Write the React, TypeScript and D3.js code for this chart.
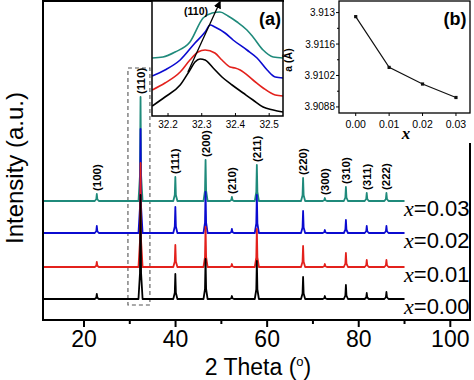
import React from 'react';
import * as d3 from 'd3';

const W = 474;
const H = 380;

// ---------- main XRD data ----------
const peakPos = [22.8, 32.35, 39.95, 46.55, 52.3, 57.75, 67.85, 72.6, 77.2, 81.75, 86.05];
const peakLabels = ['(100)', '(110)', '(111)', '(200)', '(210)', '(211)', '(220)', '(300)', '(310)', '(311)', '(222)'];
const seriesNames = ['0.00', '0.01', '0.02', '0.03'];
const seriesColors = ['#000000', '#e3211c', '#0b0bd0', '#1f8a7b'];
const seriesOffsets = [0, 32, 66, 98];
const heights000 = [5, 104, 25, 40, 3, 38, 22, 3, 14, 6, 7];
const heights001 = [5, 104, 22, 40, 3, 38, 21, 3, 14, 7, 7];
const heights002 = [7, 104, 26, 41, 4, 38, 22, 3, 13, 7, 7];
const heights003 = [7, 104, 24, 41, 4, 36, 23, 3, 14, 8, 8];
const seriesHeights = [heights000, heights001, heights002, heights003];
const scanStart = 11.2;
const scanEnd = 90;
const mainMajorTicks = [20, 40, 60, 80, 100];
const mainMinorTicks = [30, 50, 70, 90];

// ---------- inset (a) data ----------
const insetTheta000 = [32.153, 32.191, 32.236, 32.265, 32.28, 32.295, 32.31, 32.334, 32.36, 32.39, 32.423, 32.452, 32.482, 32.512, 32.541];
const insetInt000 = [10, 19, 31, 46, 54, 57, 56, 48, 39, 31, 23, 16, 9, 6, 4];
const insetTheta001 = [32.153, 32.191, 32.236, 32.265, 32.289, 32.31, 32.339, 32.36, 32.384, 32.399, 32.414, 32.452, 32.482, 32.518, 32.541];
const insetInt001 = [26, 33, 44, 56, 64, 66, 63, 56, 49, 48, 46, 36, 28, 21, 20];
const insetTheta002 = [32.153, 32.191, 32.236, 32.28, 32.31, 32.325, 32.339, 32.369, 32.393, 32.434, 32.464, 32.494, 32.518, 32.541];
const insetInt002 = [40, 46, 56, 73, 84, 91, 89, 83, 76, 66, 58, 46, 39, 38];
const insetTheta003 = [32.153, 32.185, 32.221, 32.265, 32.304, 32.331, 32.354, 32.378, 32.405, 32.434, 32.452, 32.482, 32.512, 32.541];
const insetInt003 = [58, 59, 64, 74, 98, 103, 104, 100, 94, 86, 79, 66, 59, 58];
const insetThetas = [insetTheta000, insetTheta001, insetTheta002, insetTheta003];
const insetInts = [insetInt000, insetInt001, insetInt002, insetInt003];
const insetTicks = [32.2, 32.3, 32.4, 32.5];
const arrowFrom = [32.259, 44];
const arrowTo = [32.354, 114];

// ---------- inset (b) data ----------
const latticeX = [0, 0.01, 0.02, 0.03];
const latticeA = [3.91282, 3.91056, 3.90982, 3.90922];
const latticeTicks = [3.9088, 3.9102, 3.9116, 3.913];
const latticeXTicks = [0, 0.01, 0.02, 0.03];

const SANS = '"Liberation Sans", Arial, sans-serif';
const SERIF = '"Liberation Serif", "Times New Roman", serif';

export default function App() {
  // main plot frame
  const L = 43, R = 470, T = 1, B = 320;
  const x = d3.scaleLinear().domain([11.05, 104.3]).range([L, R]);
  const y = d3.scaleLinear().domain([-21, 299]).range([B, 0]);

  const buildSeries = (hs: number[]) => {
    const pts: [number, number][] = [[scanStart, 0]];
    peakPos.forEach((p, i) => {
      const h = hs[i];
      pts.push([p - 0.45, 0], [p - 0.12, h * 0.25], [p, h], [p + 0.12, h * 0.25], [p + 0.45, 0]);
    });
    pts.push([scanEnd, 0]);
    return pts;
  };

  const mainLine = (off: number) =>
    d3.line<[number, number]>().x(d => x(d[0])).y(d => y(d[1] + off));

  // inset a
  const aL = 152, aR = 283, aT = 1, aB = 116;
  const xa = d3.scaleLinear().domain([32.1525, 32.541]).range([aL, aR]);
  const ya = d3.scaleLinear().domain([0, 115]).range([aB, aT]);
  const insetLine = d3.line<number>().curve(d3.curveMonotoneX);

  // inset b
  const bL = 339, bR = 470, bT = 1, bB = 113;
  const xb = d3.scaleLinear().domain([-0.005, 0.0342]).range([bL, bR]);
  const yb = d3.scaleLinear().domain([3.90853, 3.91356]).range([bB, 0]);
  const bLine = d3.line<number>().x((_, i) => xb(latticeX[i])).y(d => yb(d));
  const bMinor = latticeTicks.slice(0, -1).map((t, i) => (t + latticeTicks[i + 1]) / 2);

  const tealTop = seriesOffsets[3];

  return (
    <svg width={W} height={H} style={{ position: 'absolute', left: 0, top: 0, background: '#fff' }}>
      <defs>
        <clipPath id="clipA">
          <rect x={aL} y={aT} width={aR - aL} height={aB - aT} />
        </clipPath>
        <marker id="arrowHead" viewBox="0 0 10 10" refX="8" refY="5" markerWidth="6" markerHeight="6" orient="auto">
          <path d="M0,0 L10,5 L0,10 z" fill="#000" />
        </marker>
      </defs>
      <rect x={0} y={0} width={W} height={H} fill="#fff" />

      {/* dashed box around (110) */}
      <rect x={x(29.6)} y={68} width={x(34.4) - x(29.6)} height={305 - 68}
        fill="none" stroke="#555" strokeWidth={1.1} strokeDasharray="4,3" />

      {/* XRD traces (top drawn first) */}
      {[3, 2, 1, 0].map(si => (
        <path key={si} d={mainLine(seriesOffsets[si])(buildSeries(seriesHeights[si])) || ''}
          fill="none" stroke={seriesColors[si]} strokeWidth={1.8} strokeLinejoin="round" />
      ))}

      {/* peak labels */}
      {peakPos.map((p, i) => {
        const py = y(tealTop + seriesHeights[3][i]) - 3;
        return (
          <text key={i} transform={`translate(${x(p)},${py}) rotate(-90)`} dy="0.35em"
            fontFamily={SANS} fontWeight="bold" fontSize={11.5} fill="#000">{peakLabels[i]}</text>
        );
      })}

      {/* series labels */}
      {seriesNames.map((n, si) => (
        <text key={n} x={404} y={y(seriesOffsets[si]) + 15} fontSize={22} fill="#000">
          <tspan fontFamily={SERIF} fontStyle="italic">x</tspan>
          <tspan fontFamily={SANS}>={n}</tspan>
        </text>
      ))}

      {/* main frame */}
      <rect x={L} y={T} width={R - L} height={B - T} fill="none" stroke="#000" strokeWidth={2} />

      {/* main x axis ticks */}
      {mainMajorTicks.map(t => (
        <g key={t}>
          <line x1={x(t)} x2={x(t)} y1={B} y2={B + 7} stroke="#000" strokeWidth={2} />
          <text x={x(t)} y={347} textAnchor="middle" fontFamily={SANS} fontSize={23}>{t}</text>
        </g>
      ))}
      {mainMinorTicks.map(t => (
        <line key={t} x1={x(t)} x2={x(t)} y1={B} y2={B + 4} stroke="#000" strokeWidth={2} />
      ))}
      <text x={258} y={375} textAnchor="middle" fontFamily={SANS} fontSize={23}>
        2 Theta (<tspan dy={-9} fontSize={13}>o</tspan><tspan dy={9}>)</tspan>
      </text>
      <text transform={`translate(23,168) rotate(-90)`} textAnchor="middle" fontFamily={SANS} fontSize={24}>
        Intensity (a.u.)
      </text>

      {/* ---------- inset (a) ---------- */}
      <rect x={aL} y={aT} width={aR - aL} height={aB - aT} fill="#fff" />
      <g clipPath="url(#clipA)">
        {[0, 1, 2, 3].map(si => (
          <path key={si}
            d={insetLine.x((_, i) => xa(insetThetas[si][i])).y(d => ya(d))(insetInts[si]) || ''}
            fill="none" stroke={seriesColors[si]} strokeWidth={1.6} />
        ))}
      </g>
      <line x1={xa(arrowFrom[0])} y1={ya(arrowFrom[1])} x2={xa(arrowTo[0])} y2={ya(arrowTo[1])}
        stroke="#000" strokeWidth={1.3} markerEnd="url(#arrowHead)" />
      <text x={196} y={15} textAnchor="middle" fontFamily={SANS} fontWeight="bold" fontSize={10.5}>(110)</text>
      <text x={270} y={25} textAnchor="middle" fontFamily={SANS} fontWeight="bold" fontSize={18}>(a)</text>
      <rect x={aL} y={aT} width={aR - aL} height={aB - aT} fill="none" stroke="#000" strokeWidth={1.5} />
      {insetTicks.map(t => (
        <g key={t}>
          <line x1={xa(t)} x2={xa(t)} y1={aB} y2={aB - 3} stroke="#000" strokeWidth={1} />
          <text x={xa(t)} y={128} textAnchor="middle" fontFamily={SANS} fontSize={10}>{t.toFixed(1)}</text>
        </g>
      ))}

      {/* ---------- inset (b) ---------- */}
      <rect x={aR + 1} y={0} width={W - aR - 1} height={bB + 30} fill="#fff" />
      <rect x={bL} y={bT} width={bR - bL} height={bB - bT} fill="#fff" stroke="#000" strokeWidth={1.3} />
      <path d={bLine(latticeA) || ''} fill="none" stroke="#111" strokeWidth={1.2} />
      {latticeA.map((a, i) => (
        <rect key={i} x={xb(latticeX[i]) - 1.6} y={yb(a) - 1.6} width={3.2} height={3.2} fill="#111" />
      ))}
      {latticeTicks.map(t => (
        <g key={t}>
          <line x1={bL} x2={bL - 3} y1={yb(t)} y2={yb(t)} stroke="#000" strokeWidth={1} />
          <text x={bL - 4} y={yb(t)} dy="0.35em" textAnchor="end" fontFamily={SANS} fontSize={10}>
            {String(t)}
          </text>
        </g>
      ))}
      {bMinor.map(t => (
        <line key={t} x1={bL} x2={bL - 2} y1={yb(t)} y2={yb(t)} stroke="#000" strokeWidth={1} />
      ))}
      {latticeXTicks.map(t => (
        <g key={t}>
          <line x1={xb(t)} x2={xb(t)} y1={bB} y2={bB + 3} stroke="#000" strokeWidth={1} />
          <text x={xb(t)} y={128} textAnchor="middle" fontFamily={SANS} fontSize={10.5}>{t.toFixed(2)}</text>
        </g>
      ))}
      <text x={406} y={139} textAnchor="middle" fontFamily={SERIF} fontStyle="italic" fontWeight="bold" fontSize={17}>x</text>
      <text transform={`translate(292,60) rotate(-90)`} textAnchor="middle" fontFamily={SANS} fontWeight="bold" fontSize={10.5}>
        a (Å)
      </text>
      <text x={455} y={25} textAnchor="middle" fontFamily={SANS} fontWeight="bold" fontSize={18}>(b)</text>
    </svg>
  );
}
